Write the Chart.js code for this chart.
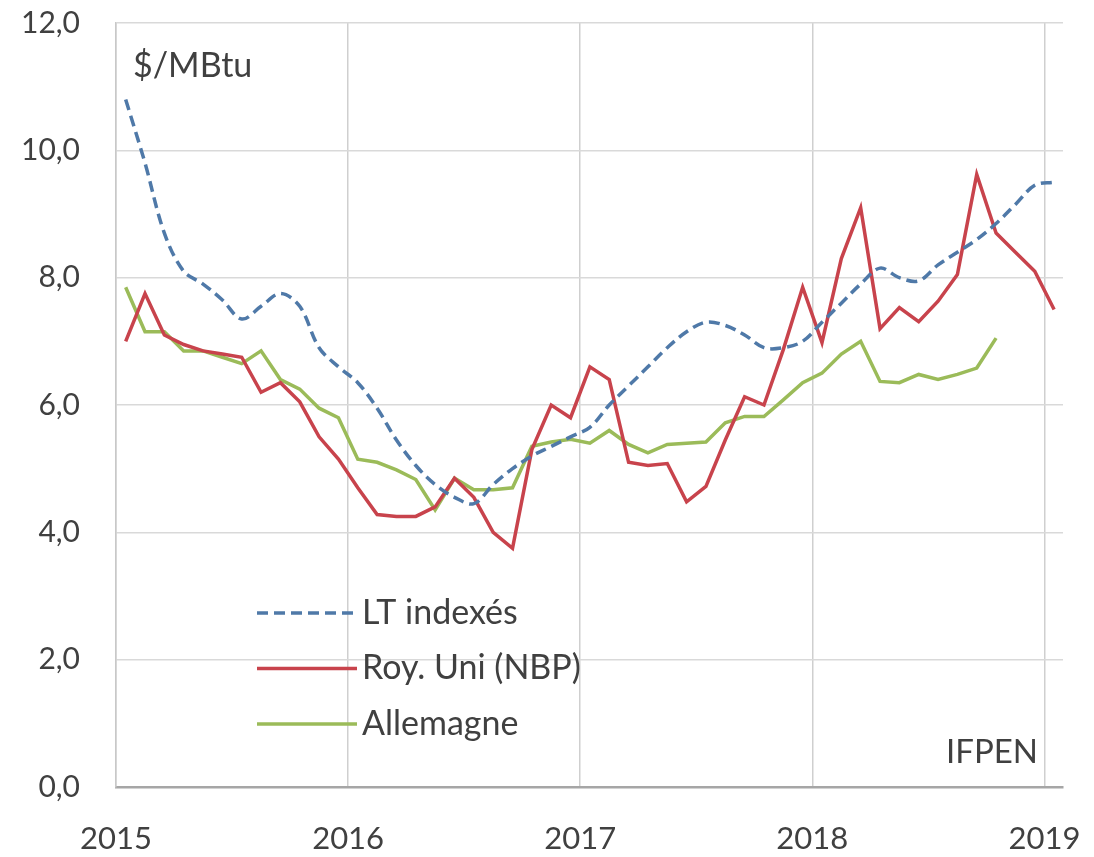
<!DOCTYPE html>
<html>
<head>
<meta charset="utf-8">
<script src="https://cdn.jsdelivr.net/npm/chart.js@4"></script>
<style>
  html, body { margin: 0; background: #fff; }
</style>
</head>
<body>
<canvas id="chart" width="1094" height="857"></canvas>
<script>
// monthly prices, $/MBtu, from Jan 2015
const startYear = 2015;
const ltIndexes = [10.8, 9.8, 8.7, 8.1, 7.9, 7.65, 7.35, 7.55, 7.75, 7.55, 6.9, 6.6,
  6.35, 5.95, 5.45, 5.05, 4.75, 4.55, 4.45, 4.75, 5.0, 5.2, 5.35, 5.5,
  5.65, 6.0, 6.3, 6.6, 6.9, 7.15, 7.3, 7.25, 7.1, 6.9, 6.9, 7.0,
  7.3, 7.6, 7.9, 8.15, 8.0, 7.95, 8.2, 8.4, 8.6, 8.85, 9.15, 9.45, 9.5];
const royUni = [7.0, 7.75, 7.1, 6.95, 6.85, 6.8, 6.75, 6.2, 6.35, 6.05, 5.5, 5.15,
  4.7, 4.28, 4.25, 4.25, 4.4, 4.85, 4.55, 4.0, 3.75, 5.3, 6.0, 5.8,
  6.6, 6.4, 5.1, 5.05, 5.08, 4.48, 4.72, 5.45, 6.13, 6.0, 6.87, 7.85,
  6.98, 8.3, 9.1, 7.2, 7.53, 7.31, 7.63, 8.05, 9.62, 8.7, 8.4, 8.1, 7.5];
const allemagne = [7.85, 7.15, 7.15, 6.85, 6.85, 6.75, 6.65, 6.85, 6.4, 6.25, 5.95, 5.8,
  5.15, 5.1, 4.98, 4.83, 4.35, 4.85, 4.67, 4.67, 4.7, 5.35, 5.42, 5.46,
  5.4, 5.6, 5.38, 5.25, 5.38, 5.4, 5.42, 5.72, 5.82, 5.82, 6.08, 6.35,
  6.5, 6.8, 7.0, 6.37, 6.35, 6.48, 6.4, 6.48, 6.58, 7.05];
const yearTicks = [2015, 2016, 2017, 2018, 2019];
const seriesNames = ["LT indexés", "Roy. Uni (NBP)", "Allemagne"];

const textColor = "#404040";
const fontFamily = "Lato, 'Open Sans', sans-serif";

// each month sits in the middle of its slot on the year axis
const toPoints = (arr) => arr.map((v, i) => ({ x: startYear + (i + 0.5) / 12, y: v }));

// legend + notes drawn inside the plot, like the original
const notesPlugin = {
  id: "notes",
  afterDatasetsDraw(chart) {
    const ctx = chart.ctx;
    ctx.save();
    chart.data.datasets.forEach((ds, i) => {
      const y = 613 + i * 55.5;
      ctx.strokeStyle = ds.borderColor;
      ctx.lineWidth = ds.borderWidth;
      ctx.setLineDash(ds.borderDash || []);
      ctx.beginPath();
      ctx.moveTo(257, y);
      ctx.lineTo(357, y);
      ctx.stroke();
      ctx.setLineDash([]);
      ctx.fillStyle = textColor;
      ctx.font = "34px " + fontFamily;
      ctx.textBaseline = "middle";
      ctx.fillText(ds.label, 362, y);
    });
    ctx.fillStyle = textColor;
    ctx.textBaseline = "middle";
    ctx.font = "34px " + fontFamily;
    ctx.fillText("$/MBtu", 133, 66);
    ctx.font = "33px " + fontFamily;
    ctx.fillText("IFPEN", 946, 752);
    ctx.restore();
  }
};

new Chart(document.getElementById("chart"), {
  type: "line",
  data: {
    datasets: [
      {
        label: seriesNames[0],
        data: toPoints(ltIndexes),
        borderColor: "#4f79a8",
        borderWidth: 3.5,
        borderDash: [11, 6],
        tension: 0.35,
        pointRadius: 0
      },
      {
        label: seriesNames[1],
        data: toPoints(royUni),
        borderColor: "#c8434c",
        borderWidth: 3.5,
        tension: 0,
        pointRadius: 0
      },
      {
        label: seriesNames[2],
        data: toPoints(allemagne),
        borderColor: "#9bbb59",
        borderWidth: 3.5,
        tension: 0,
        pointRadius: 0
      }
    ]
  },
  options: {
    responsive: false,
    animation: false,
    layout: { padding: { top: 23, right: 31, left: 0, bottom: 0 } },
    plugins: { legend: { display: false }, tooltip: { enabled: false } },
    scales: {
      x: {
        type: "linear",
        min: 2015,
        max: 2019.08,
        afterBuildTicks: (s) => { s.ticks = yearTicks.map((v) => ({ value: v })); },
        afterFit: (s) => {
          s.height = 70;
          s.paddingLeft = 0;
          s.paddingRight = 0;
        },
        ticks: {
          callback: (v) => String(v),
          color: textColor,
          font: { family: fontFamily, size: 31 },
          padding: 33,
          maxRotation: 0
        },
        grid: { color: "#cfcfcf", lineWidth: 1.5, drawTicks: false },
        border: { color: "#a6a6a6", width: 2.5 }
      },
      y: {
        min: 0,
        max: 12,
        afterFit: (s) => {
          s.width = 116;
          s.paddingTop = 0;
          s.paddingBottom = 0;
        },
        ticks: {
          stepSize: 2,
          callback: (v) => v.toFixed(1).replace(".", ","),
          color: textColor,
          font: { family: fontFamily, size: 30 },
          padding: 36
        },
        grid: { color: "#d9d9d9", lineWidth: 1.5, drawTicks: false },
        border: { color: "#c8c8c8", width: 1.5 }
      }
    }
  },
  plugins: [notesPlugin]
});
</script>
</body>
</html>
